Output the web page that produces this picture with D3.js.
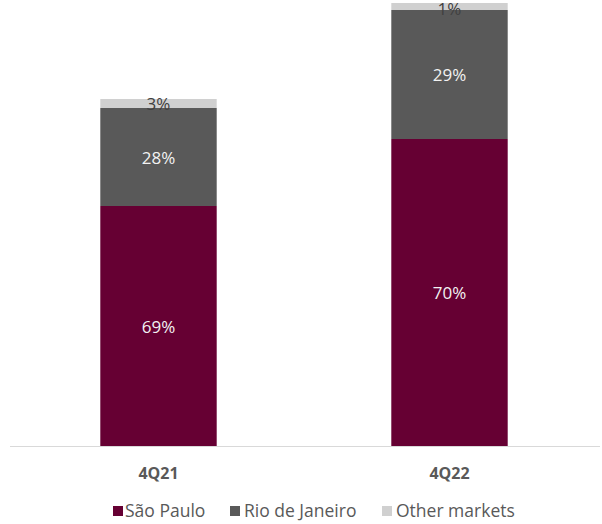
<!DOCTYPE html>
<html><head><meta charset="utf-8">
<script src="https://cdn.jsdelivr.net/npm/d3@7"></script>
<style>body{margin:0;background:#fff}svg{display:block}</style>
</head><body>
<script>
const categories = ["4Q21", "4Q22"];
const seriesNames = ["São Paulo", "Rio de Janeiro", "Other markets"];
const saoPaulo = [240, 307];
const rioDeJaneiro = [98, 129];
const otherMarkets = [9, 7];
const saoPauloLabels = ["69%", "70%"];
const rioLabels = ["28%", "29%"];
const otherLabels = ["3%", "1%"];

const colors = ["#660033", "#595959", "#d0d0d0"];
const labelColors = ["#f2f2f2", "#f2f2f2", "#404040"];
const W = 602, H = 524;
const font = "'Open Sans', sans-serif";

const rows = categories.map((c, i) => ({cat: c, s0: saoPaulo[i], s1: rioDeJaneiro[i], s2: otherMarkets[i]}));
const labels = [saoPauloLabels, rioLabels, otherLabels];
const stack = d3.stack().keys(["s0", "s1", "s2"])(rows);

const svg = d3.select("body").append("svg").attr("width", W).attr("height", H);
const x = d3.scaleBand().domain(categories).range([13, 595]).paddingInner(0.6).paddingOuter(0.3);
const y = d3.scaleLinear().domain([0, 443]).range([446, 3]);

// axis line
svg.append("line").attr("x1", 10).attr("x2", 600).attr("y1", 446.5).attr("y2", 446.5)
  .attr("stroke", "#d9d9d9").attr("stroke-width", 1);

stack.forEach((layer, li) => {
  const g = svg.append("g");
  g.selectAll("rect").data(layer).enter().append("rect")
    .attr("x", d => x(d.data.cat)).attr("width", x.bandwidth())
    .attr("y", d => y(d[1])).attr("height", d => y(d[0]) - y(d[1]))
    .attr("fill", colors[li]);
  g.selectAll("text").data(layer).enter().append("text")
    .attr("x", d => x(d.data.cat) + x.bandwidth() / 2)
    .attr("y", d => Math.max(9, (y(d[0]) + y(d[1])) / 2 + 1))
    .attr("dy", "0.35em").attr("text-anchor", "middle")
    .attr("font-family", font).attr("font-size", 17).attr("fill", labelColors[li])
    .text((d, i) => labels[li][i]);
});

// category labels
svg.append("g").selectAll("text").data(categories).enter().append("text")
  .attr("x", d => x(d) + x.bandwidth() / 2).attr("y", 473).attr("dy", "0.35em")
  .attr("text-anchor", "middle").attr("font-family", font).attr("font-weight", "bold")
  .attr("font-size", 16).attr("fill", "#595959").text(d => d);

// legend
const legendX = [113, 230, 382];
const legendTextX = [125, 244, 396];
const lg = svg.append("g");
seriesNames.forEach((n, i) => {
  lg.append("rect").attr("x", legendX[i]).attr("y", 506).attr("width", 10).attr("height", 10).attr("fill", colors[i]);
  lg.append("text").attr("x", legendTextX[i]).attr("y", 511).attr("dy", "0.35em")
    .attr("font-family", font).attr("font-size", 17.5).attr("fill", "#595959").text(n);
});
</script>
</body></html>
